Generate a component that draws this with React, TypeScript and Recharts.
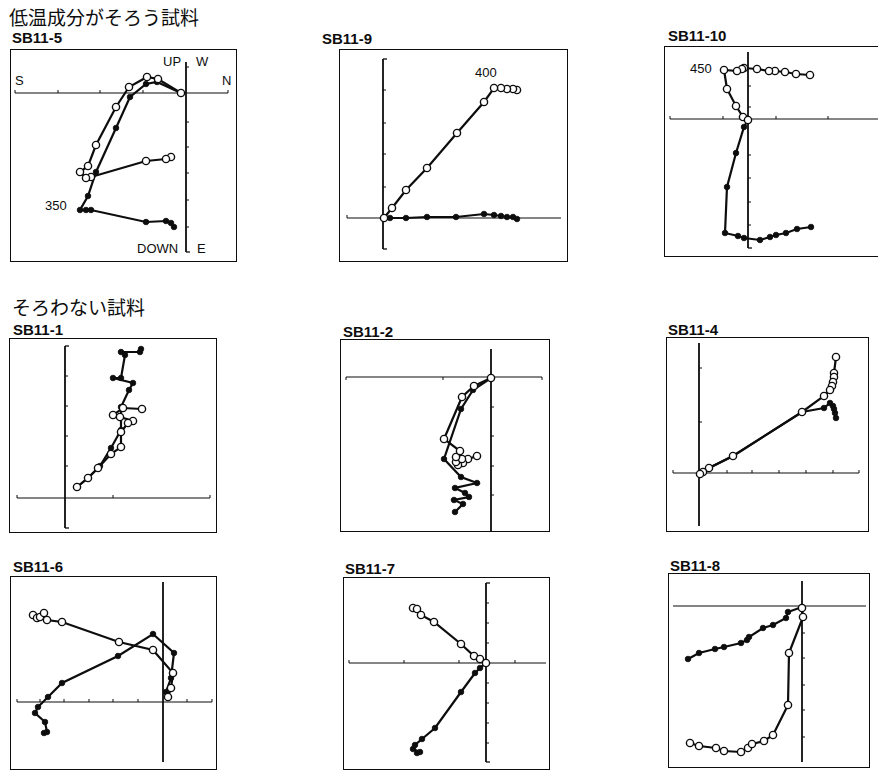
import React from "react";
import { ScatterChart, Scatter, XAxis, YAxis, ReferenceLine } from "recharts";

type Pt = { x: number; y: number };
const pts = (arr: number[][]): Pt[] => arr.map(([x, y]) => ({ x, y }));

// vector end points (open = vertical plane, filled = horizontal plane), NRM first
const sb115Open = pts([[-15, -64], [-20, -66], [-40, -68], [-95, -84], [-100, -85], [-106, -79], [-98, -73], [-90, -52], [-70, -14], [-57, 6], [-39, 16], [-28, 14], [-5, 0]]);
const sb115Filled = pts([[-12, -134], [-15, -130], [-20, -128], [-40, -129], [-95, -117], [-100, -117], [-106, -117], [-98, -103], [-90, -79], [-70, -35], [-56, -4], [-40, 9], [-29, 11], [-5, 0]]);

const sb119Open = pts([[134, 128], [130, 129], [124, 129], [118, 130], [111, 130], [101, 116], [74, 85], [44, 50], [23, 28], [9, 10], [1, 0]]);
const sb119Filled = pts([[134, -1], [130, 1], [124, 1], [118, 2], [111, 3], [101, 4], [73, 1], [44, 1], [23, 0], [7, 0], [1, 0]]);

const sb1110Open = pts([[62, 44], [48, 45], [37, 47], [27, 48], [21, 48], [9, 50], [-4, 51], [-6, 50], [-11, 48], [-24, 49], [-21, 30], [-12, 13], [-5, 2], [0, -1]]);
const sb1110Filled = pts([[63, -108], [49, -110], [38, -114], [28, -116], [22, -118], [12, -121], [-4, -119], [-10, -117], [-23, -114], [-21, -68], [-12, -34], [-4, -8], [0, -1]]);

const sb111Open = pts([[77, 89], [58, 90], [48, 83], [55, 81], [68, 77], [63, 75], [56, 66], [56, 51], [46, 44], [33, 30], [23, 20], [12, 11]]);
const sb111Filled = pts([[76, 149], [75, 146], [56, 146], [60, 143], [56, 120], [48, 120], [68, 115], [64, 108], [56, 91], [56, 68], [46, 50], [35, 32], [23, 20], [12, 11]]);

const sb112Open = pts([[-14, -79], [-23, -82], [-28, -86], [-33, -88], [-35, -85], [-29, -82], [-35, -80], [-31, -74], [-47, -62], [-29, -20], [-17, -9], [0, -1]]);
const sb112Filled = pts([[-36, -135], [-28, -127], [-37, -123], [-22, -120], [-26, -116], [-36, -111], [-14, -106], [-30, -100], [-47, -82], [-30, -32], [-18, -13], [0, -1]]);

const sb114Open = pts([[137, 116], [135, 100], [135, 96], [134, 91], [133, 87], [131, 83], [125, 77], [103, 61], [34, 17], [10, 5], [4, 1], [1, -1]]);
const sb114Filled = pts([[137, 55], [136, 60], [135, 64], [134, 67], [131, 70], [125, 65], [103, 61], [34, 17], [10, 5], [4, 1], [1, -1]]);

const sb116Open = pts([[-130, 87], [-126, 84], [-123, 85], [-119, 89], [-116, 82], [-101, 80], [-44, 60], [-10, 52], [10, 29], [8, 14], [5, 5]]);
const sb116Filled = pts([[-119, -31], [-116, -30], [-118, -20], [-128, -11], [-125, -5], [-115, 5], [-101, 19], [-45, 46], [-10, 68], [11, 49], [8, 24], [3, 10]]);

const sb117Open = pts([[-73, 55], [-69, 54], [-65, 48], [-52, 41], [-25, 19], [-12, 7], [-6, 4], [0, 0]]);
const sb117Filled = pts([[-69, -90], [-66, -89], [-73, -86], [-71, -82], [-64, -76], [-51, -65], [-25, -29], [-11, -10], [-6, -5], [0, 0]]);

const sb118Open = pts([[-112, -137], [-103, -140], [-86, -142], [-78, -145], [-61, -146], [-54, -142], [-50, -138], [-38, -135], [-29, -129], [-14, -99], [-13, -47], [1, -11], [0, -2]]);
const sb118Filled = pts([[-114, -53], [-103, -47], [-87, -43], [-78, -41], [-61, -37], [-55, -34], [-53, -31], [-39, -22], [-29, -19], [-16, -12], [-14, -6], [0, -1]]);

type PanelProps = {
  left: number;
  top: number;
  width: number;
  height: number;
  ox: number;
  oy: number;
  hAxis: [number, number];
  vAxis: [number, number];
  hTicks?: number[];
  hTickDir?: number;
  vTicks?: number[];
  bracketTop?: boolean;
  bracketBottom?: boolean;
  open: Pt[];
  filled: Pt[];
};

const INK = "#0d0d0d";

const OpenDot = (p: any) => (
  <circle cx={p.cx} cy={p.cy} r={3.6} fill="#fff" stroke={INK} strokeWidth={1.4} />
);
const FilledDot = (p: any) => (
  <circle cx={p.cx} cy={p.cy} r={2.8} fill={INK} stroke={INK} strokeWidth={0.8} />
);

function Panel(props: PanelProps) {
  const { left, top, width, height, ox, oy, hAxis, vAxis } = props;
  const tickLen = 3;
  const hDir = props.hTickDir ?? 1;
  const lineStyle = { stroke: INK, strokeWidth: 2.2 };
  return (
    <div style={{ position: "absolute", left, top, width, height }}>
      <ScatterChart width={width} height={height} margin={{ top: 0, right: 0, bottom: 0, left: 0 }}>
        <XAxis type="number" dataKey="x" domain={[-ox, width - ox]} hide allowDataOverflow />
        <YAxis type="number" dataKey="y" domain={[oy - height, oy]} hide allowDataOverflow />
        <ReferenceLine segment={[{ x: hAxis[0], y: 0 }, { x: hAxis[1], y: 0 }]} stroke={INK} strokeWidth={1.2} />
        <ReferenceLine segment={[{ x: 0, y: vAxis[0] }, { x: 0, y: vAxis[1] }]} stroke={INK} strokeWidth={1.8} />
        {(props.hTicks ?? []).map((t) => (
          <ReferenceLine key={"h" + t} segment={[{ x: t, y: 0 }, { x: t, y: tickLen * hDir }]} stroke={INK} strokeWidth={1} />
        ))}
        {(props.vTicks ?? []).map((t) => (
          <ReferenceLine key={"v" + t} segment={[{ x: 0, y: t }, { x: tickLen, y: t }]} stroke={INK} strokeWidth={1} />
        ))}
        {props.bracketTop && (
          <ReferenceLine segment={[{ x: 0, y: vAxis[0] }, { x: 4, y: vAxis[0] }]} stroke={INK} strokeWidth={1.3} />
        )}
        {props.bracketBottom && (
          <ReferenceLine segment={[{ x: 0, y: vAxis[1] }, { x: 4, y: vAxis[1] }]} stroke={INK} strokeWidth={1.3} />
        )}
        <Scatter
          data={props.filled}
          fill={INK}
          strokeWidth={2.2}
          line={lineStyle}
          shape={FilledDot}
          isAnimationActive={false}
        />
        <Scatter
          data={props.open}
          fill={INK}
          strokeWidth={2.2}
          line={lineStyle}
          shape={OpenDot}
          isAnimationActive={false}
        />
      </ScatterChart>
      <div
        style={{
          position: "absolute",
          inset: 0,
          border: `1.5px solid ${INK}`,
          boxSizing: "border-box",
          pointerEvents: "none",
        }}
      />
    </div>
  );
}

const SANS = "'Liberation Sans', Arial, sans-serif";
const JP = "'Noto Sans CJK JP', sans-serif";

const labels: { x: number; y: number; s: string; size: number; font: string; bold?: boolean }[] = [
  { x: 9, y: 25, s: "低温成分がそろう試料", size: 19, font: JP },
  { x: 12, y: 315, s: "そろわない試料", size: 19, font: JP },
  { x: 12, y: 43, s: "SB11-5", size: 15, font: SANS, bold: true },
  { x: 322, y: 44, s: "SB11-9", size: 15, font: SANS, bold: true },
  { x: 668, y: 41, s: "SB11-10", size: 15, font: SANS, bold: true },
  { x: 13, y: 335, s: "SB11-1", size: 15, font: SANS, bold: true },
  { x: 343, y: 337, s: "SB11-2", size: 15, font: SANS, bold: true },
  { x: 668, y: 335, s: "SB11-4", size: 15, font: SANS, bold: true },
  { x: 13, y: 572, s: "SB11-6", size: 15, font: SANS, bold: true },
  { x: 345, y: 574, s: "SB11-7", size: 15, font: SANS, bold: true },
  { x: 670, y: 571, s: "SB11-8", size: 15, font: SANS, bold: true },
  { x: 15, y: 85, s: "S", size: 13, font: SANS },
  { x: 222, y: 85, s: "N", size: 13, font: SANS },
  { x: 163, y: 66, s: "UP", size: 13, font: SANS },
  { x: 196, y: 66, s: "W", size: 13, font: SANS },
  { x: 137, y: 253, s: "DOWN", size: 13, font: SANS },
  { x: 197, y: 253, s: "E", size: 13, font: SANS },
  { x: 45, y: 210, s: "350", size: 13, font: SANS },
  { x: 475, y: 77, s: "400", size: 13, font: SANS },
  { x: 690, y: 73, s: "450", size: 13, font: SANS },
];

export default function App() {
  return (
    <div
      style={{
        position: "absolute",
        left: 0,
        top: 0,
        width: 878,
        height: 772,
        overflow: "hidden",
        background: "#fff",
      }}
    >
      <Panel left={10} top={49} width={227} height={213} ox={176} oy={44}
        hAxis={[-171, 42]} vAxis={[31, -159]}
        hTicks={[-171, -128, -86, -43, 42]} vTicks={[26, -29, -54, -80, -107, -134]}
        bracketBottom open={sb115Open} filled={sb115Filled} />
      <Panel left={339} top={49} width={229} height={213} ox={44} oy={169}
        hAxis={[-36, 178]} vAxis={[159, -31]}
        hTicks={[-36]} vTicks={[128, 95, 64, 31]}
        bracketTop bracketBottom open={sb119Open} filled={sb119Filled} />
      <Panel left={664} top={46} width={221} height={211} ox={84} oy={73}
        hAxis={[-78, 137]} vAxis={[67, -129]}
        hTicks={[-78, -25, 28, 80]} vTicks={[33, 12, -36, -59, -83, -106]}
        bracketBottom open={sb1110Open} filled={sb1110Filled} />
      <Panel left={9} top={338} width={208} height={195} ox={56} oy={160}
        hAxis={[-48, 145]} vAxis={[152, -30]}
        hTicks={[-48, 48, 145]} vTicks={[122, 92, 62, 32]}
        bracketTop bracketBottom open={sb111Open} filled={sb111Filled} />
      <Panel left={340} top={339} width={210} height={193} ox={151} oy={38}
        hAxis={[-145, 51]} vAxis={[28, -155]}
        hTicks={[-145, -48, 51]} hTickDir={-1} vTicks={[-30, -59, -89, -118]}
        open={sb112Open} filled={sb112Filled} />
      <Panel left={666} top={337} width={203} height={195} ox={33} oy={136}
        hAxis={[-26, 160]} vAxis={[130, -53]}
        hTicks={[-26, 28, 53, 80, 107, 134, 160]} vTicks={[105, 51]}
        open={sb114Open} filled={sb114Filled} />
      <Panel left={10} top={576} width={207} height={194} ox={153} oy={126}
        hAxis={[-146, 49]} vAxis={[120, -60]}
        hTicks={[-146, -123, -99, -74, -50, -25, 24, 49]}
        open={sb116Open} filled={sb116Filled} />
      <Panel left={343} top={577} width={207} height={193} ox={143} oy={86}
        hAxis={[-137, 60]} vAxis={[80, -99]}
        hTicks={[-137, -82, -27, 29]} vTicks={[60, 40, 20, -20, -40, -60, -80]}
        bracketTop bracketBottom open={sb117Open} filled={sb117Filled} />
      <Panel left={668} top={573} width={202} height={195} ox={134} oy={33}
        hAxis={[-129, 64]} vAxis={[25, -156]}
        vTicks={[-27, -52, -79, -104, -131]}
        open={sb118Open} filled={sb118Filled} />
      <svg
        width={878}
        height={772}
        style={{ position: "absolute", left: 0, top: 0, pointerEvents: "none" }}
      >
        {labels.map((l) => (
          <text
            key={l.s}
            x={l.x}
            y={l.y}
            fontSize={l.size}
            fontFamily={l.font}
            fontWeight={l.bold ? 700 : 400}
            fill={INK}
          >
            {l.s}
          </text>
        ))}
      </svg>
    </div>
  );
}
